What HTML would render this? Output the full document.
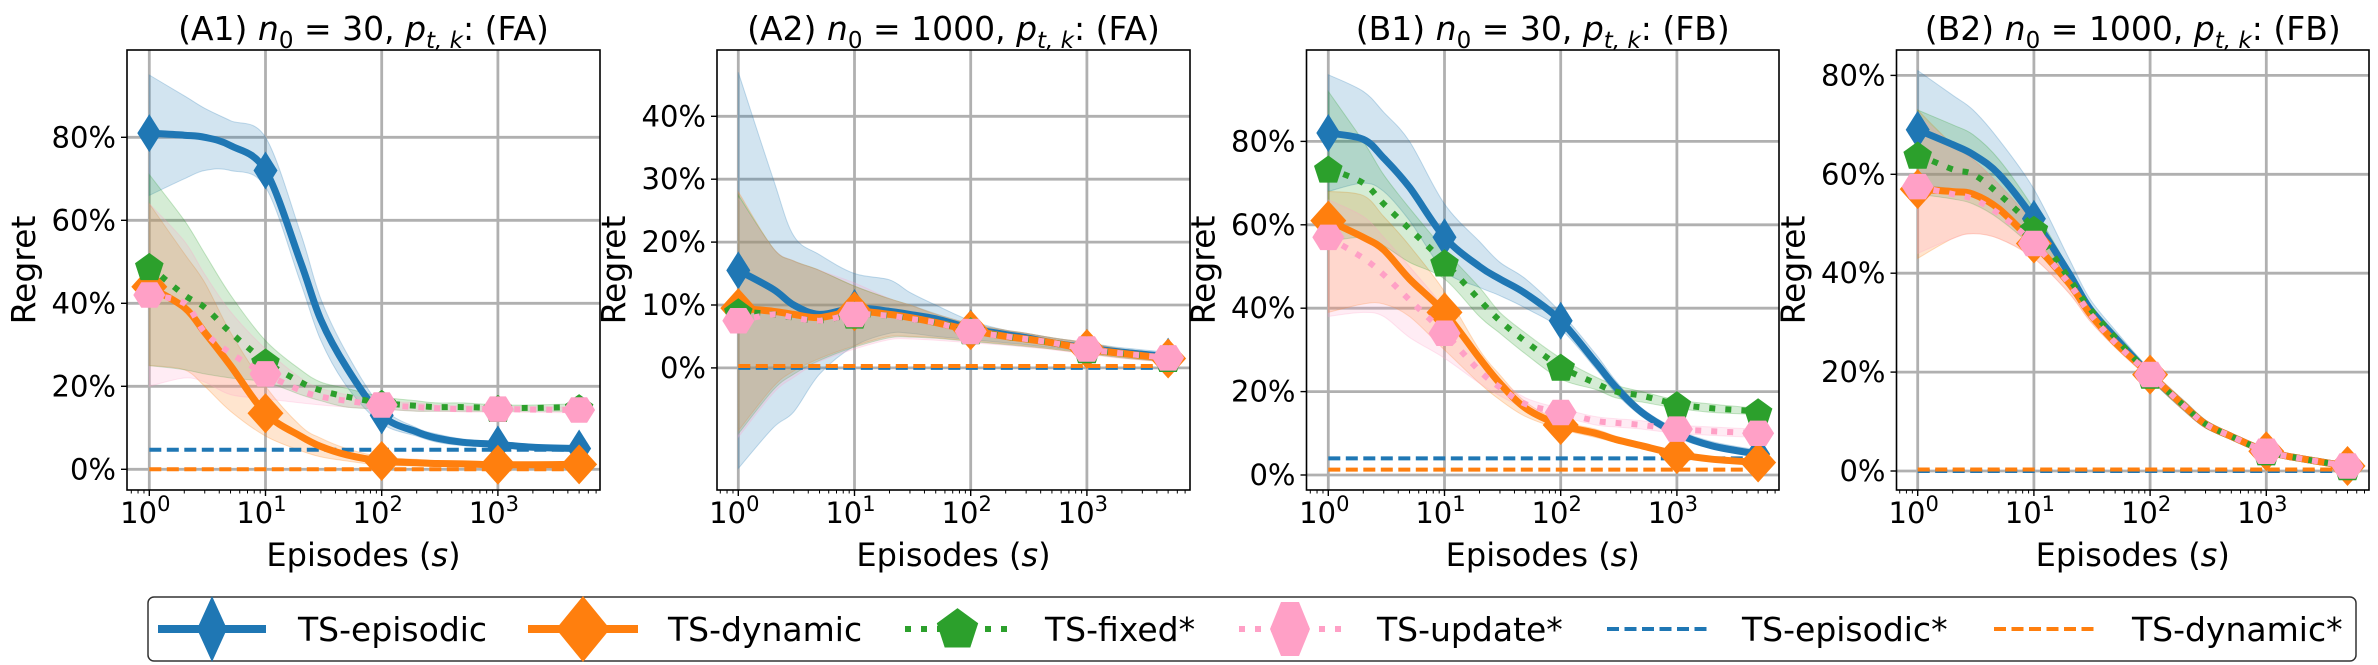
<!DOCTYPE html>
<html><head><meta charset="utf-8">
<style>
html,body{margin:0;padding:0;background:#fff;}
svg{display:block;font-family:"DejaVu Sans","Liberation Sans",sans-serif;}
</style></head>
<body>
<svg id="chart" width="2378" height="665" viewBox="0 0 2378 665" xmlns="http://www.w3.org/2000/svg">
<g id="panels"></g>
<g id="legend"></g>
</svg>
<script>
// ---- data ----
const episodes = [1,2,3,5,10,20,30,50,100,200,300,500,1000,2000,5000];
const markerEpisodes = [1,10,100,1000,5000];
const panelTitles = ["(A1)", "(A2)", "(B1)", "(B2)"];
const panelN0 = ["30", "1000", "30", "1000"];
const panelScen = ["FA", "FA", "FB", "FB"];
const yTicksA1 = [0,20,40,60,80];
const yTicksA2 = [0,10,20,30,40];
const yTicksB1 = [0,20,40,60,80];
const yTicksB2 = [0,20,40,60,80];
const xTickExps = [0,1,2,3];

// A1
const a1Episodic = [81,80.5,80,78,72,50,36,24.5,13,9,7.5,6.5,6,5.3,5];
const a1EpisodicLo = [66,70,72,72,68,45,31,20,11,8,6.5,5.7,5.3,4.8,4.6];
const a1EpisodicHi = [95,90,87,84,80,57,41,28,15,10,8.5,7.3,6.7,6,5.5];
const a1Dynamic = [44,39,33,25,13.5,8,5.5,3.5,2,1.6,1.4,1.3,1.1,1.1,1.2];
const a1DynamicLo = [25,24,20,14,8,4.5,3,2,1,0.8,0.7,0.6,0.5,0.5,0.6];
const a1DynamicHi = [64,52,45,33,20,10.5,7.5,5,3,2.4,2.1,2,1.8,1.7,1.8];
const a1Fixed = [49,42,39,33,26,21,19,17.5,16,15.3,15,15,14.8,14.8,15];
const a1FixedLo = [25,24,23,22,21,18,16.5,15,14.5,14,14,14,14,14,14];
const a1FixedHi = [71,60,52,42,31,24,21,19.5,17.5,16.5,16,16,15.5,15.5,15.8];
const a1Update = [42,40,33,28,23,19,17.5,16.5,15.5,15,14.7,14.5,14.5,14.4,14.3];
const a1UpdateLo = [20,22,21,18,17,16,15.5,15,14.5,14,14,13.8,13.8,13.7,13.6];
const a1UpdateHi = [64,55,47,38,29,22,19.5,18,16.5,16,15.5,15.3,15.2,15.1,15];
const a1EpisodicStar = 4.7;
const a1DynamicStar = 0;

// A2
const a2Episodic = [15.5,12.5,10,8.5,9.5,9,8.5,7.8,6.3,5.3,4.8,4,3.2,2.5,1.8];
const a2EpisodicLo = [-16,-9.5,-7,-1,3.5,5.5,5.5,5,4.5,4,3.7,3.2,2.5,1.8,1];
const a2EpisodicHi = [47,30,21,18,15,14,12,10,7.5,6,5.5,4.8,4,3.2,2.5];
const a2Dynamic = [9.5,9,8.5,8,9,8.5,8,7.2,6,5,4.6,4,3,2.3,1.5];
const a2DynamicLo = [-10,-3,-0.5,1.5,3.5,5,5,4.8,4.3,3.8,3.5,3,2.3,1.6,0.9];
const a2DynamicHi = [28,19,17,15.5,13,11,10,8.5,7,6,5.5,4.8,4,3,2.2];
const a2Fixed = [9,8.5,8,7.5,8.5,8.3,7.8,7.2,6,5,4.6,4,3,2.3,1.6];
const a2FixedLo = [-10.5,-3.5,-1,1.2,3.3,4.8,4.9,4.7,4.2,3.7,3.4,3,2.3,1.6,0.9];
const a2FixedHi = [27.5,19,17,15.5,13,11,10,8.6,7,6,5.5,4.8,4,3,2.2];
const a2Update = [7.5,8.5,8,7.5,8.5,8.3,7.8,7.2,5.8,5,4.6,4,3,2.3,1.6];
const a2UpdateLo = [-11,-4,-1.5,1,3,4.5,4.6,4.4,4,3.6,3.3,2.9,2.2,1.5,0.9];
const a2UpdateHi = [27,19,17,15.5,13.5,11,10,8.6,7,6,5.5,4.8,4,3,2.2];
const a2EpisodicStar = 0;
const a2DynamicStar = 0.3;

// B1
const b1Episodic = [82,80.5,76,69,57,50,47,43.5,37,27,21,15,10,7,5];
const b1EpisodicLo = [68,70,68,61,49,45,43,40,35,25.5,19.5,14,9,6.3,4.3];
const b1EpisodicHi = [96,92,87,80,65,56,51,47,39,29,22.5,16,11,8,6];
const b1Dynamic = [61,57,54,47,39,28,22,16,12,10,8.5,7,5,3.8,3];
const b1DynamicLo = [39,41,41,38,30,22,18,14,11,9,7.8,6.4,4.5,3.3,2.5];
const b1DynamicHi = [68,67,62,55,44,30,24,17.5,13,11,9.3,7.7,5.6,4.3,3.5];
const b1Fixed = [73.5,70,65,59,51,42,37,32,26,22,20,19,17,16,15.3];
const b1FixedLo = [56,57,55,51,47,38,34,29,23,20.5,18.5,17.5,16,15,14.5];
const b1FixedHi = [92,80,72,64,54,45,39,34,28,23.5,21.5,20,18,17,16];
const b1Update = [57,52,48,42,34,25,21,17,15,13,12.5,12,11,10.5,10];
const b1UpdateLo = [38,39,38,33,28,22,19,16,14,12,11.5,11,10,9.5,9];
const b1UpdateHi = [66,62,57,50,40,28,23,18.5,16,14,13.5,13,12,11.5,11];
const b1EpisodicStar = 4;
const b1DynamicStar = 1.3;

// B2
const b2Episodic = [69,66,64,60,51,40,33,27,19.5,13,9.5,7,4,2.5,1];
const b2EpisodicLo = [58,57,56,53,46,37,31,25.5,18.5,12,8.7,6.4,3.5,2,0.5];
const b2EpisodicHi = [81,76,73,67,57,43,35,28.5,20.5,14,10.3,7.6,4.5,3,1.5];
const b2Dynamic = [57,56.5,56,53,46,38,32,26,19.5,13,9.5,7,4,2.5,1];
const b2DynamicLo = [43,47,48,47,43,36,30.5,25,18.5,12,8.7,6.4,3.5,2,0.5];
const b2DynamicHi = [73,66,63,58,50,40,33.5,27,20.5,14,10.3,7.6,4.5,3,1.5];
const b2Fixed = [64,61,60,56,49,39,33,27,19.5,13,9.5,7,4,2.5,1];
const b2FixedLo = [56,55,54,51,45,37,31,25.5,18.5,12,8.7,6.4,3.5,2,0.5];
const b2FixedHi = [73,70,68,63,53,41,34,28,20.5,14,10.3,7.6,4.5,3,1.5];
const b2Update = [57.5,56,55,52,46,38,32,26,19.5,13,9.5,7,4,2.5,1];
const b2UpdateLo = [44,47,48,47,43,36,30.5,25,18.5,12,8.7,6.4,3.5,2,0.5];
const b2UpdateHi = [72,66,63,58,50,40,33.5,27,20.5,14,10.3,7.6,4.5,3,1.5];
const b2EpisodicStar = 0;
const b2DynamicStar = 0.3;

// ---- layout (not data) ----
const NS = "http://www.w3.org/2000/svg";
const C = {ep:"#1f77b4", dy:"#ff7f0e", fx:"#2ca02c", up:"#ffa0c6"};
const layouts = [
  {left:127, right:600, x0:149.3, top:50, bottom:490, y0:469.3, k:4.15, yt:yTicksA1},
  {left:717, right:1190, x0:738.3, top:50, bottom:490, y0:367.9, k:6.29, yt:yTicksA2},
  {left:1306.5, right:1779, x0:1328.3, top:50, bottom:490, y0:475, k:4.17, yt:yTicksB1},
  {left:1896.5, right:2369, x0:1917.7, top:50, bottom:490, y0:471, k:4.945, yt:yTicksB2}
];
const DEC = 116.2;
const panelSeries = [
  {ep:[a1Episodic,a1EpisodicLo,a1EpisodicHi], dy:[a1Dynamic,a1DynamicLo,a1DynamicHi], fx:[a1Fixed,a1FixedLo,a1FixedHi], up:[a1Update,a1UpdateLo,a1UpdateHi], es:a1EpisodicStar, ds:a1DynamicStar},
  {ep:[a2Episodic,a2EpisodicLo,a2EpisodicHi], dy:[a2Dynamic,a2DynamicLo,a2DynamicHi], fx:[a2Fixed,a2FixedLo,a2FixedHi], up:[a2Update,a2UpdateLo,a2UpdateHi], es:a2EpisodicStar, ds:a2DynamicStar},
  {ep:[b1Episodic,b1EpisodicLo,b1EpisodicHi], dy:[b1Dynamic,b1DynamicLo,b1DynamicHi], fx:[b1Fixed,b1FixedLo,b1FixedHi], up:[b1Update,b1UpdateLo,b1UpdateHi], es:b1EpisodicStar, ds:b1DynamicStar},
  {ep:[b2Episodic,b2EpisodicLo,b2EpisodicHi], dy:[b2Dynamic,b2DynamicLo,b2DynamicHi], fx:[b2Fixed,b2FixedLo,b2FixedHi], up:[b2Update,b2UpdateLo,b2UpdateHi], es:b2EpisodicStar, ds:b2DynamicStar}
];

function mk(tag, attrs, parent){
  const e = document.createElementNS(NS, tag);
  for (const a in attrs) e.setAttribute(a, attrs[a]);
  if (parent) parent.appendChild(e);
  return e;
}
function smooth(pts){
  let d = "M"+pts[0][0].toFixed(1)+","+pts[0][1].toFixed(1);
  for (let i=0;i<pts.length-1;i++){
    const p0=pts[Math.max(0,i-1)], p1=pts[i], p2=pts[i+1], p3=pts[Math.min(pts.length-1,i+2)];
    const c1=[p1[0]+(p2[0]-p0[0])/6, p1[1]+(p2[1]-p0[1])/6];
    const c2=[p2[0]-(p3[0]-p1[0])/6, p2[1]-(p3[1]-p1[1])/6];
    d += " C"+c1[0].toFixed(1)+","+c1[1].toFixed(1)+" "+c2[0].toFixed(1)+","+c2[1].toFixed(1)+" "+p2[0].toFixed(1)+","+p2[1].toFixed(1);
  }
  return d;
}
function markerPath(type, cx, cy, s){
  s = s||1;
  if (type==="ep"){ const w=12*s,h=19*s; return `M${cx},${cy-h} L${cx+w},${cy} L${cx},${cy+h} L${cx-w},${cy} Z`; }
  if (type==="dy"){ const w=18*s,h=20*s; return `M${cx},${cy-h} L${cx+w},${cy} L${cx},${cy+h} L${cx-w},${cy} Z`; }
  if (type==="fx"){ let d=""; const r=15*s; for(let i=0;i<5;i++){const a=-Math.PI/2+i*2*Math.PI/5; d+=(i?"L":"M")+(cx+r*Math.cos(a)).toFixed(1)+","+(cy+r*Math.sin(a)+2*s).toFixed(1);} return d+"Z"; }
  let d=""; const r=16*s; for(let i=0;i<6;i++){const a=i*Math.PI/3; d+=(i?"L":"M")+(cx+r*Math.cos(a)).toFixed(1)+","+(cy+r*0.92*Math.sin(a)).toFixed(1);} return d+"Z";
}

const panelsG = document.getElementById("panels");
layouts.forEach((L, pi) => {
  const g = mk("g", {}, panelsG);
  
  
  const X = v => L.x0 + Math.log10(v)*DEC;
  const Y = v => L.y0 - v*L.k;
  const cw = L.right - L.left;
  const clipId = "clip"+pi;
  const defs = mk("defs", {}, g);
  const cp = mk("clipPath", {id:clipId}, defs);
  mk("rect", {x:L.left, y:L.top, width:cw, height:L.bottom-L.top}, cp);

  // grid
  const grid = mk("g", {stroke:"#b0b0b0","stroke-width":2.8}, g);
  
  
  xTickExps.forEach(e => { mk("line", {x1:X(Math.pow(10,e)), x2:X(Math.pow(10,e)), y1:L.top, y2:L.bottom}, grid); });
  L.yt.forEach(v => { mk("line", {x1:L.left, x2:L.right, y1:Y(v), y2:Y(v)}, grid); });

  const plot = mk("g", {"clip-path":`url(#${clipId})`}, g);
  
  
  const S = panelSeries[pi];
  // bands
  ["ep","dy","fx","up"].forEach(key => {
    const lo = S[key][1], hi = S[key][2];
    const top = episodes.map((x,i)=>[X(x),Y(hi[i])]);
    const bot = episodes.map((x,i)=>[X(x),Y(lo[i])]).reverse();
    const d = smooth(top) + " L" + smooth(bot).slice(1) + " Z";
    const band = mk("path", {d:d, fill:C[key], "fill-opacity":0.2, stroke:C[key], "stroke-opacity":0.25, "stroke-width":1}, plot);
    
    
  });
  // dashed star lines
  const esl = mk("line", {x1:X(1), x2:X(5000), y1:Y(S.es), y2:Y(S.es), stroke:C.ep, "stroke-width":4, "stroke-dasharray":"12,5.5"}, plot);
  
  
  const dsl = mk("line", {x1:X(1), x2:X(5000), y1:Y(S.ds), y2:Y(S.ds), stroke:C.dy, "stroke-width":4, "stroke-dasharray":"12,5.5"}, plot);
  
  
  // lines & markers
  const styles = {ep:{w:7,da:null}, dy:{w:7,da:null}, fx:{w:6,da:"6,10"}, up:{w:6,da:"6,10"}};
  ["ep","dy","fx","up"].forEach(key => {
    const vals = S[key][0];
    const pts = episodes.map((x,i)=>[X(x),Y(vals[i])]);
    const attrs = {d:smooth(pts), fill:"none", stroke:C[key], "stroke-width":styles[key].w, "stroke-linejoin":"round"};
    if (styles[key].da) attrs["stroke-dasharray"] = styles[key].da;
    const ln = mk("path", attrs, plot);
    
    
    markerEpisodes.forEach(mx => {
      const i = episodes.indexOf(mx);
      const m = mk("path", {d:markerPath(key, X(mx), Y(vals[i])), fill:C[key]}, plot);
      
      
    });
  });

  // frame
  const frame = mk("rect", {x:L.left, y:L.top, width:cw, height:L.bottom-L.top, fill:"none", stroke:"#000", "stroke-width":1.6}, g);
  
  

  // y ticks
  L.yt.forEach(v => {
    mk("line", {x1:L.left-6, x2:L.left, y1:Y(v), y2:Y(v), stroke:"#000","stroke-width":1.4}, g);
    const t = mk("text", {x:L.left-11, y:Y(v)+10, "text-anchor":"end", "font-size":29}, g);
    t.textContent = v + "%";
    
    
  });
  // x ticks major & minor
  for (let e=-1;e<=3;e++){
    for (let m=1;m<=9;m++){
      const v = m*Math.pow(10,e);
      const xx = X(v);
      if (xx < L.left || xx > L.right) continue;
      mk("line", {x1:xx, x2:xx, y1:L.bottom, y2:L.bottom+(m===1?6:3.5), stroke:"#000","stroke-width":m===1?1.4:1}, g);
    }
  }
  xTickExps.forEach(e => {
    const t = mk("text", {x:X(Math.pow(10,e))-4, y:523, "text-anchor":"middle", "font-size":29}, g);
    t.textContent = "10";
    const sup = mk("tspan", {dy:-12, "font-size":21}, t);
    sup.textContent = String(e);
    
    
  });
  // labels
  const cx = (L.left+L.right)/2;
  const xl = mk("text", {x:cx, y:566, "text-anchor":"middle", "font-size":32}, g);
  xl.textContent = "Episodes (";
  const xs = mk("tspan", {"font-style":"italic"}, xl); xs.textContent = "s";
  const xe = mk("tspan", {}, xl); xe.textContent = ")";
  
  
  const yx = L.left - 92;
  const yl = mk("text", {x:yx, y:270, "text-anchor":"middle", "font-size":33, transform:`rotate(-90 ${yx} 270)`}, g);
  yl.textContent = "Regret";
  
  
  const tt = mk("text", {x:cx, y:40, "text-anchor":"middle", "font-size":33}, g);
  const t1 = mk("tspan", {}, tt); t1.textContent = panelTitles[pi] + " ";
  const t2 = mk("tspan", {"font-style":"italic"}, tt); t2.textContent = "n";
  const t3 = mk("tspan", {dy:8, "font-size":23}, tt); t3.textContent = "0";
  const t4 = mk("tspan", {dy:-8}, tt); t4.textContent = " = " + panelN0[pi] + ", ";
  const t5 = mk("tspan", {"font-style":"italic"}, tt); t5.textContent = "p";
  const t6 = mk("tspan", {dy:8, "font-size":23, "font-style":"italic"}, tt); t6.textContent = "t, k";
  const t7 = mk("tspan", {dy:-8}, tt); t7.textContent = ": (" + panelScen[pi] + ")";
  
  
});

// legend
const lg = document.getElementById("legend");
const lbox = mk("rect", {x:148, y:597, width:2208, height:64, rx:6, fill:"#fff", stroke:"#333", "stroke-width":1.5}, lg);


const legendLabels = ["TS-episodic","TS-dynamic","TS-fixed*","TS-update*","TS-episodic*","TS-dynamic*"];
const legendKeys = ["ep","dy","fx","up","ep","dy"];
const legendH = [[158,266,298],[528,638,668],[905,1010,1045],[1239,1341,1377],[1607,1709,1742],[1994,2096,2132]];
legendLabels.forEach((lab, i) => {
  const e = mk("g", {}, lg);
  
  
  const [x1,x2,tx] = legendH[i];
  const key = legendKeys[i];
  const cy = 629;
  const a = {x1:x1, x2:x2, y1:cy, y2:cy, stroke:C[key]};
  if (i<2){ a["stroke-width"]=8; }
  else if (i<4){ a["stroke-width"]=6; a["stroke-dasharray"]="6,10"; }
  else { a["stroke-width"]=4; a["stroke-dasharray"]="12,5.5"; }
  mk("line", a, e);
  const mx = (x1+x2)/2;
  if (i===0) mk("path", {d:`M${mx},${cy-33} L${mx+15},${cy} L${mx},${cy+33} L${mx-15},${cy} Z`, fill:C.ep}, e);
  if (i===1) mk("path", {d:`M${mx},${cy-33} L${mx+27},${cy} L${mx},${cy+33} L${mx-27},${cy} Z`, fill:C.dy}, e);
  if (i===2) mk("path", {d:markerPath("fx", mx, cy-2, 1.45), fill:C.fx}, e);
  if (i===3) mk("path", {d:`M${mx-9},${cy-27} L${mx+9},${cy-27} L${mx+20},${cy} L${mx+9},${cy+27} L${mx-9},${cy+27} L${mx-20},${cy} Z`, fill:C.up}, e);
  const t = mk("text", {x:tx, y:cy+12, "font-size":33}, e);
  t.textContent = lab;
});
</script>
</body></html>
